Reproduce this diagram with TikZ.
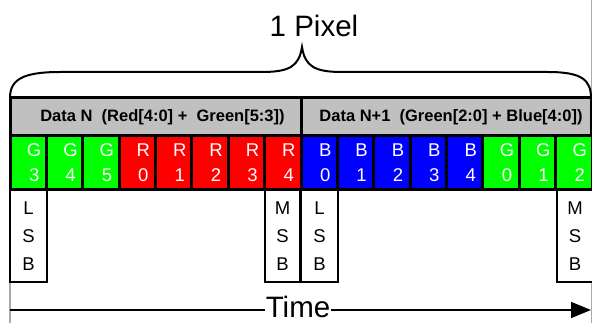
\documentclass[tikz,border=0pt]{standalone}
\usepackage{fontspec}
\setmainfont{Liberation Sans}
\usetikzlibrary{arrows.meta}
\definecolor{cgreen}{RGB}{0,255,0}
\definecolor{cred}{RGB}{255,0,0}
\definecolor{cblue}{RGB}{0,0,255}
\definecolor{cgray}{RGB}{192,192,192}
\definecolor{lgray}{RGB}{170,170,170}
\begin{document}
\begin{tikzpicture}[x=1pt,y=-1pt,
  bitcell/.style={draw=black,line width=3pt,minimum width=36.375pt,minimum height=54pt,inner sep=0pt,outer sep=0pt,anchor=north west,text=white,font=\fontsize{18.5}{25}\selectfont,align=center},
  sigbox/.style={draw=black,line width=2.5pt,minimum height=92pt,inner sep=0pt,outer sep=0pt,anchor=north west,font=\fontsize{18.5}{28}\selectfont,align=center,fill=white},
  hdr/.style={draw=black,line width=3pt,fill=cgray,minimum height=38pt,inner sep=0pt,outer sep=0pt,anchor=north west,font=\bfseries\fontsize{16.5}{18}\selectfont},
  bigtxt/.style={font=\fontsize{29.5}{31}\selectfont,inner sep=0pt}
]
\useasboundingbox (0,0) rectangle (592,323);
\fill[white] (0,0) rectangle (592,323);
% left/right gray guide lines
\coordinate (gl1) at (10,190);
\coordinate (gl2) at (10,323);
\draw[lgray,line width=2pt] (gl1) -- (gl2);
\coordinate (gr1) at (591,0);
\coordinate (gr2) at (591,323);
\draw[lgray,line width=1pt] (gr1) -- (gr2);
% header
\node[hdr,minimum width=291pt] (h1) at (10,98) {\hspace*{14pt}Data N\ \ (Red[4:0] +\ \ Green[5:3])};
\node[hdr,minimum width=290pt] (h2) at (301,98) {\hspace*{10pt}Data N+1\ \ (Green[2:0] + Blue[4:0])};
% cells
\foreach \i/\c/\l/\d in {0/cgreen/G/3,1/cgreen/G/4,2/cgreen/G/5,3/cred/R/0,4/cred/R/1,5/cred/R/2,6/cred/R/3,7/cred/R/4,8/cblue/B/0,9/cblue/B/1,10/cblue/B/2,11/cblue/B/3,12/cblue/B/4,13/cgreen/G/0,14/cgreen/G/1,15/cgreen/G/2}{
  \node[bitcell,fill=\c] (c\i) at ({10+\i*36.375},136) {\hspace*{12pt}\l\\\hspace*{12pt}\d};
}
% LSB / MSB boxes
\node[sigbox,minimum width=37pt] (lsb1) at (10,190) {L\\S\\B};
\node[sigbox,minimum width=35pt] (msb1) at (265,190) {M\\S\\B};
\node[sigbox,minimum width=37pt] (lsb2) at (301,190) {L\\S\\B};
\node[sigbox,minimum width=36pt] (msb2) at (557,190) {M\\S\\B};
% brace
\coordinate (bl) at (10,98);
\coordinate (bt) at (302,47);
\coordinate (br) at (591,98);
\draw[line width=2pt] (bl) .. controls (10,80) and (22,72) .. (60,72) -- (262,72)
  .. controls (290,72) and (299,66) .. (bt)
  .. controls (305,66) and (314,72) .. (342,72) -- (548,72)
  .. controls (582,72) and (591,80) .. (br);
\node[bigtxt,anchor=base] (pix) at (314,37) {1 Pixel};
% time arrow
\node[bigtxt,anchor=base,inner xsep=1pt] (time) at (298,317.5) {Time};
\coordinate (ts) at (10,310);
\coordinate (te) at (591,310);
\draw[line width=1.5pt] (ts) -- (time.west |- ts);
\draw[line width=1.5pt,-{Triangle[length=20pt,width=16pt]}] (time.east |- ts) -- (te);
\end{tikzpicture}
\end{document}
